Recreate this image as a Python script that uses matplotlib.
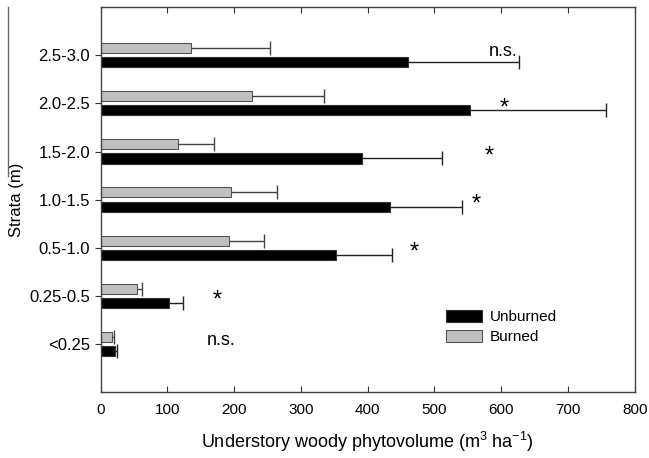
import numpy as np
import matplotlib.pyplot as plt
from matplotlib.lines import Line2D

# estratos (de baixo para cima)
strata = ['<0.25', '0.25-0.5', '0.5-1.0', '1.0-1.5', '1.5-2.0', '2.0-2.5', '2.5-3.0']
unburned = [21, 102, 353, 433, 392, 554, 460]
unburned_err = [4, 22, 83, 108, 120, 203, 166]
burned = [17, 55, 192, 195, 116, 227, 136]
burned_err = [3, 7, 53, 69, 54, 107, 117]
signif = ['n.s.', '*', '*', '*', '*', '*', 'n.s.']
signif_x = [180, 174, 469, 563, 582, 604, 603]

plt.rcParams['font.family'] = ['Liberation Sans', 'DejaVu Sans']
plt.rcParams['mathtext.fontset'] = 'custom'
plt.rcParams['mathtext.rm'] = 'Liberation Sans'

fig = plt.figure(figsize=(6.49, 4.58), dpi=100)
ax = fig.add_axes([0.155, 0.1434, 0.823, 0.8413])

y = np.arange(len(strata))
h = 0.21
n = len(strata)

series = [
    (y - 0.145, unburned, unburned_err, 'black', '#333333', '#222222', 'Unburned'),
    (y + 0.15, burned, burned_err, '#c0c0c0', '#555555', '#444444', 'Burned'),
]
for pos, vals, err, fc, ec, errc, lab in series:
    ax.barh(pos, vals, height=h, color=fc, edgecolor=ec, linewidth=0.8, label=lab)
    # barra de erro so para o lado positivo (sem tampa na base)
    ends = np.array(vals) + np.array(err)
    ax.hlines(pos, vals, ends, color=errc, linewidth=1)
    ax.plot(ends, pos, linestyle='none', marker='|', markersize=10, markeredgewidth=1, color=errc)

# marcas de significancia
for i in range(n):
    if signif[i] == '*':
        ax.text(signif_x[i], y[i] - 0.1, '*', ha='center', va='center', fontsize=17)
    else:
        ax.text(signif_x[i], y[i] + 0.08, 'n.s.', ha='center', va='center', fontsize=13)

ax.set_xlim(0, 800)
ax.set_ylim(-1, 7)
ax.set_xticks(range(0, 801, 100))
ax.set_yticks(y)
ax.set_yticklabels(strata)
ax.tick_params(axis='x', direction='in', length=4, top=True, labelsize=11, pad=8, color='#333333')
ax.tick_params(axis='y', direction='out', length=4, labelsize=12, color='#333333')
for s in ax.spines.values():
    s.set_color('#444444')
    s.set_linewidth(1)

ax.set_xlabel('Understory woody phytovolume (m$^3$ ha$^{-1}$)', fontsize=13, labelpad=9)
ax.set_ylabel('Strata (m)', fontsize=12, labelpad=4)

ax.legend(loc='upper left', bbox_to_anchor=(0.62, 0.25), frameon=False, fontsize=11,
          handlelength=2.4, handleheight=0.9, labelspacing=0.35, handletextpad=0.5)

# linha vertical solta na borda esquerda
fig.add_artist(Line2D([0.013, 0.013], [0.985, 0.615], color='#666666', linewidth=1))

fig.savefig('out.png', dpi=100)
